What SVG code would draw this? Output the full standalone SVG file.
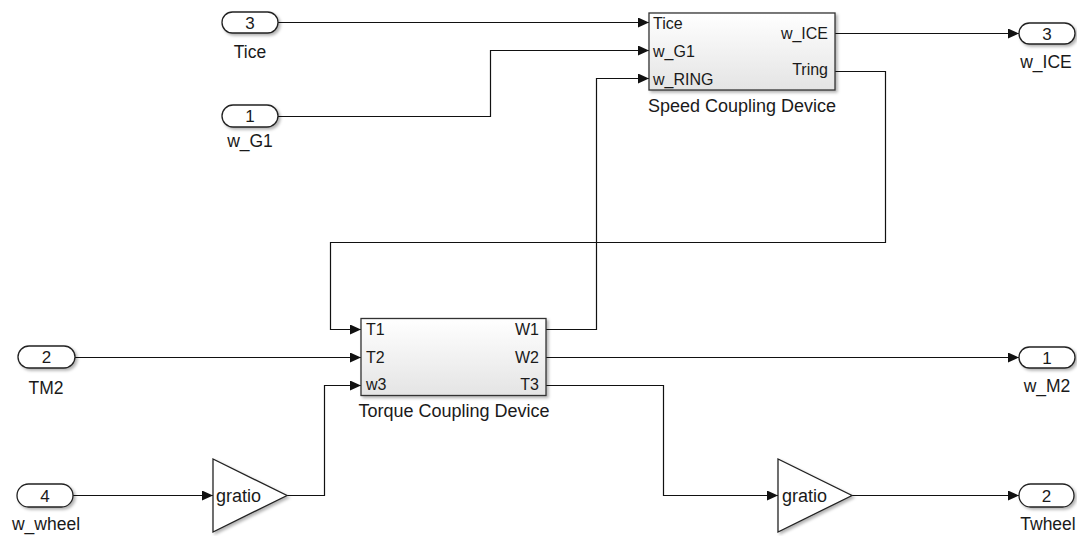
<svg xmlns="http://www.w3.org/2000/svg" width="1077" height="536" viewBox="0 0 1077 536">
<style>
text{font-family:"Liberation Sans",Arial,sans-serif;fill:#1a1a1a}
.pl{font-size:16px}
.bn{font-size:18px;text-anchor:middle}
.io{font-size:17.5px;text-anchor:middle}
.num{font-size:17px;text-anchor:middle}
.blk{fill:url(#g);stroke:#333;stroke-width:1.3;filter:url(#sh)}
.pill{fill:#fff;stroke:#222;stroke-width:1.3;filter:url(#sh)}
.tri{fill:#fff;stroke:#222;stroke-width:1.3;filter:url(#sh)}
.w{fill:none;stroke:#111;stroke-width:1.2}
.wa{fill:none;stroke:#111;stroke-width:1.2;marker-end:url(#ah)}
</style>
<defs>
<linearGradient id="g" x1="0" y1="0" x2="0" y2="1"><stop offset="0" stop-color="#ffffff"/><stop offset="1" stop-color="#e4e4e4"/></linearGradient>
<filter id="sh" x="-10%" y="-10%" width="130%" height="140%"><feDropShadow dx="2" dy="2" stdDeviation="1.5" flood-color="#000" flood-opacity="0.3"/></filter>
<marker id="ah" markerWidth="11" markerHeight="10" refX="11" refY="5" orient="auto" markerUnits="userSpaceOnUse"><path d="M0,0 L11,5 L0,10 Z" fill="#111"/></marker>
</defs>
<rect width="1077" height="536" fill="#fff"/>
<g id="connectors">
<path class="wa" d="M278,22.5 H649"/>
<path class="wa" d="M278,116.5 H490.5 V50.5 H649"/>
<path class="wa" d="M546,329.5 H596.5 V78.5 H649"/>
<path class="wa" d="M835,71.5 H885.5 V242.5 H330.5 V329.5 H361"/>
<path class="wa" d="M835,33.5 H1019"/>
<path class="wa" d="M75,357.5 H361"/>
<path class="wa" d="M546,357.5 H1019"/>
<path class="wa" d="M73,495.5 H213"/>
<path class="wa" d="M287,495.5 H324.5 V385.5 H361"/>
<path class="wa" d="M546,385.5 H663.5 V495.5 H778"/>
<path class="wa" d="M852,495.5 H1019"/>
</g>
<g id="in_Tice">
<rect class="pill" x="222" y="12" width="56" height="21" rx="10.5"/>
<text class="num" x="250" y="28.5">3</text>
<text class="io" x="250" y="58">Tice</text>
</g>
<g id="in_wG1">
<rect class="pill" x="222" y="105" width="56" height="22" rx="11"/>
<text class="num" x="250" y="122">1</text>
<text class="io" x="250" y="147">w_G1</text>
</g>
<g id="speed">
<rect class="blk" x="649" y="13" width="186" height="77"/>
<text class="pl" x="653" y="29">Tice</text>
<text class="pl" x="653" y="57">w_G1</text>
<text class="pl" x="653" y="84.5">w_RING</text>
<text class="pl" x="828" y="39" text-anchor="end">w_ICE</text>
<text class="pl" x="828" y="75" text-anchor="end">Tring</text>
<text class="bn" x="742" y="112">Speed Coupling Device</text>
</g>
<g id="out_wICE">
<rect class="pill" x="1019" y="23" width="56" height="21" rx="10.5"/>
<text class="num" x="1047" y="39.5">3</text>
<text class="io" x="1046" y="68">w_ICE</text>
</g>
<g id="in_TM2">
<rect class="pill" x="18" y="346" width="57" height="22" rx="11"/>
<text class="num" x="46.5" y="363">2</text>
<text class="io" x="46" y="394">TM2</text>
</g>
<g id="torque">
<rect class="blk" x="361" y="318.5" width="185" height="77"/>
<text class="pl" x="366" y="334.5">T1</text>
<text class="pl" x="366" y="362.5">T2</text>
<text class="pl" x="366" y="390">w3</text>
<text class="pl" x="539" y="334.5" text-anchor="end">W1</text>
<text class="pl" x="539" y="362.5" text-anchor="end">W2</text>
<text class="pl" x="539" y="390" text-anchor="end">T3</text>
<text class="bn" x="454" y="417">Torque Coupling Device</text>
</g>
<g id="out_wM2">
<rect class="pill" x="1019" y="347" width="56" height="21" rx="10.5"/>
<text class="num" x="1047" y="363.5">1</text>
<text class="io" x="1047" y="392">w_M2</text>
</g>
<g id="in_wwheel">
<rect class="pill" x="17" y="484" width="56" height="23" rx="11.5"/>
<text class="num" x="45" y="501.5">4</text>
<text class="io" x="46" y="530">w_wheel</text>
</g>
<g id="gain1">
<polygon class="tri" points="213,459 213,532 287,495.5"/>
<text x="216" y="502" style="font-size:18px">gratio</text>
</g>
<g id="gain2">
<polygon class="tri" points="778,459 778,532 852,495.5"/>
<text x="782" y="502" style="font-size:18px">gratio</text>
</g>
<g id="out_Twheel">
<rect class="pill" x="1019" y="484" width="55" height="23" rx="11.5"/>
<text class="num" x="1046.5" y="501.5">2</text>
<text class="io" x="1048" y="530">Twheel</text>
</g>
</svg>
